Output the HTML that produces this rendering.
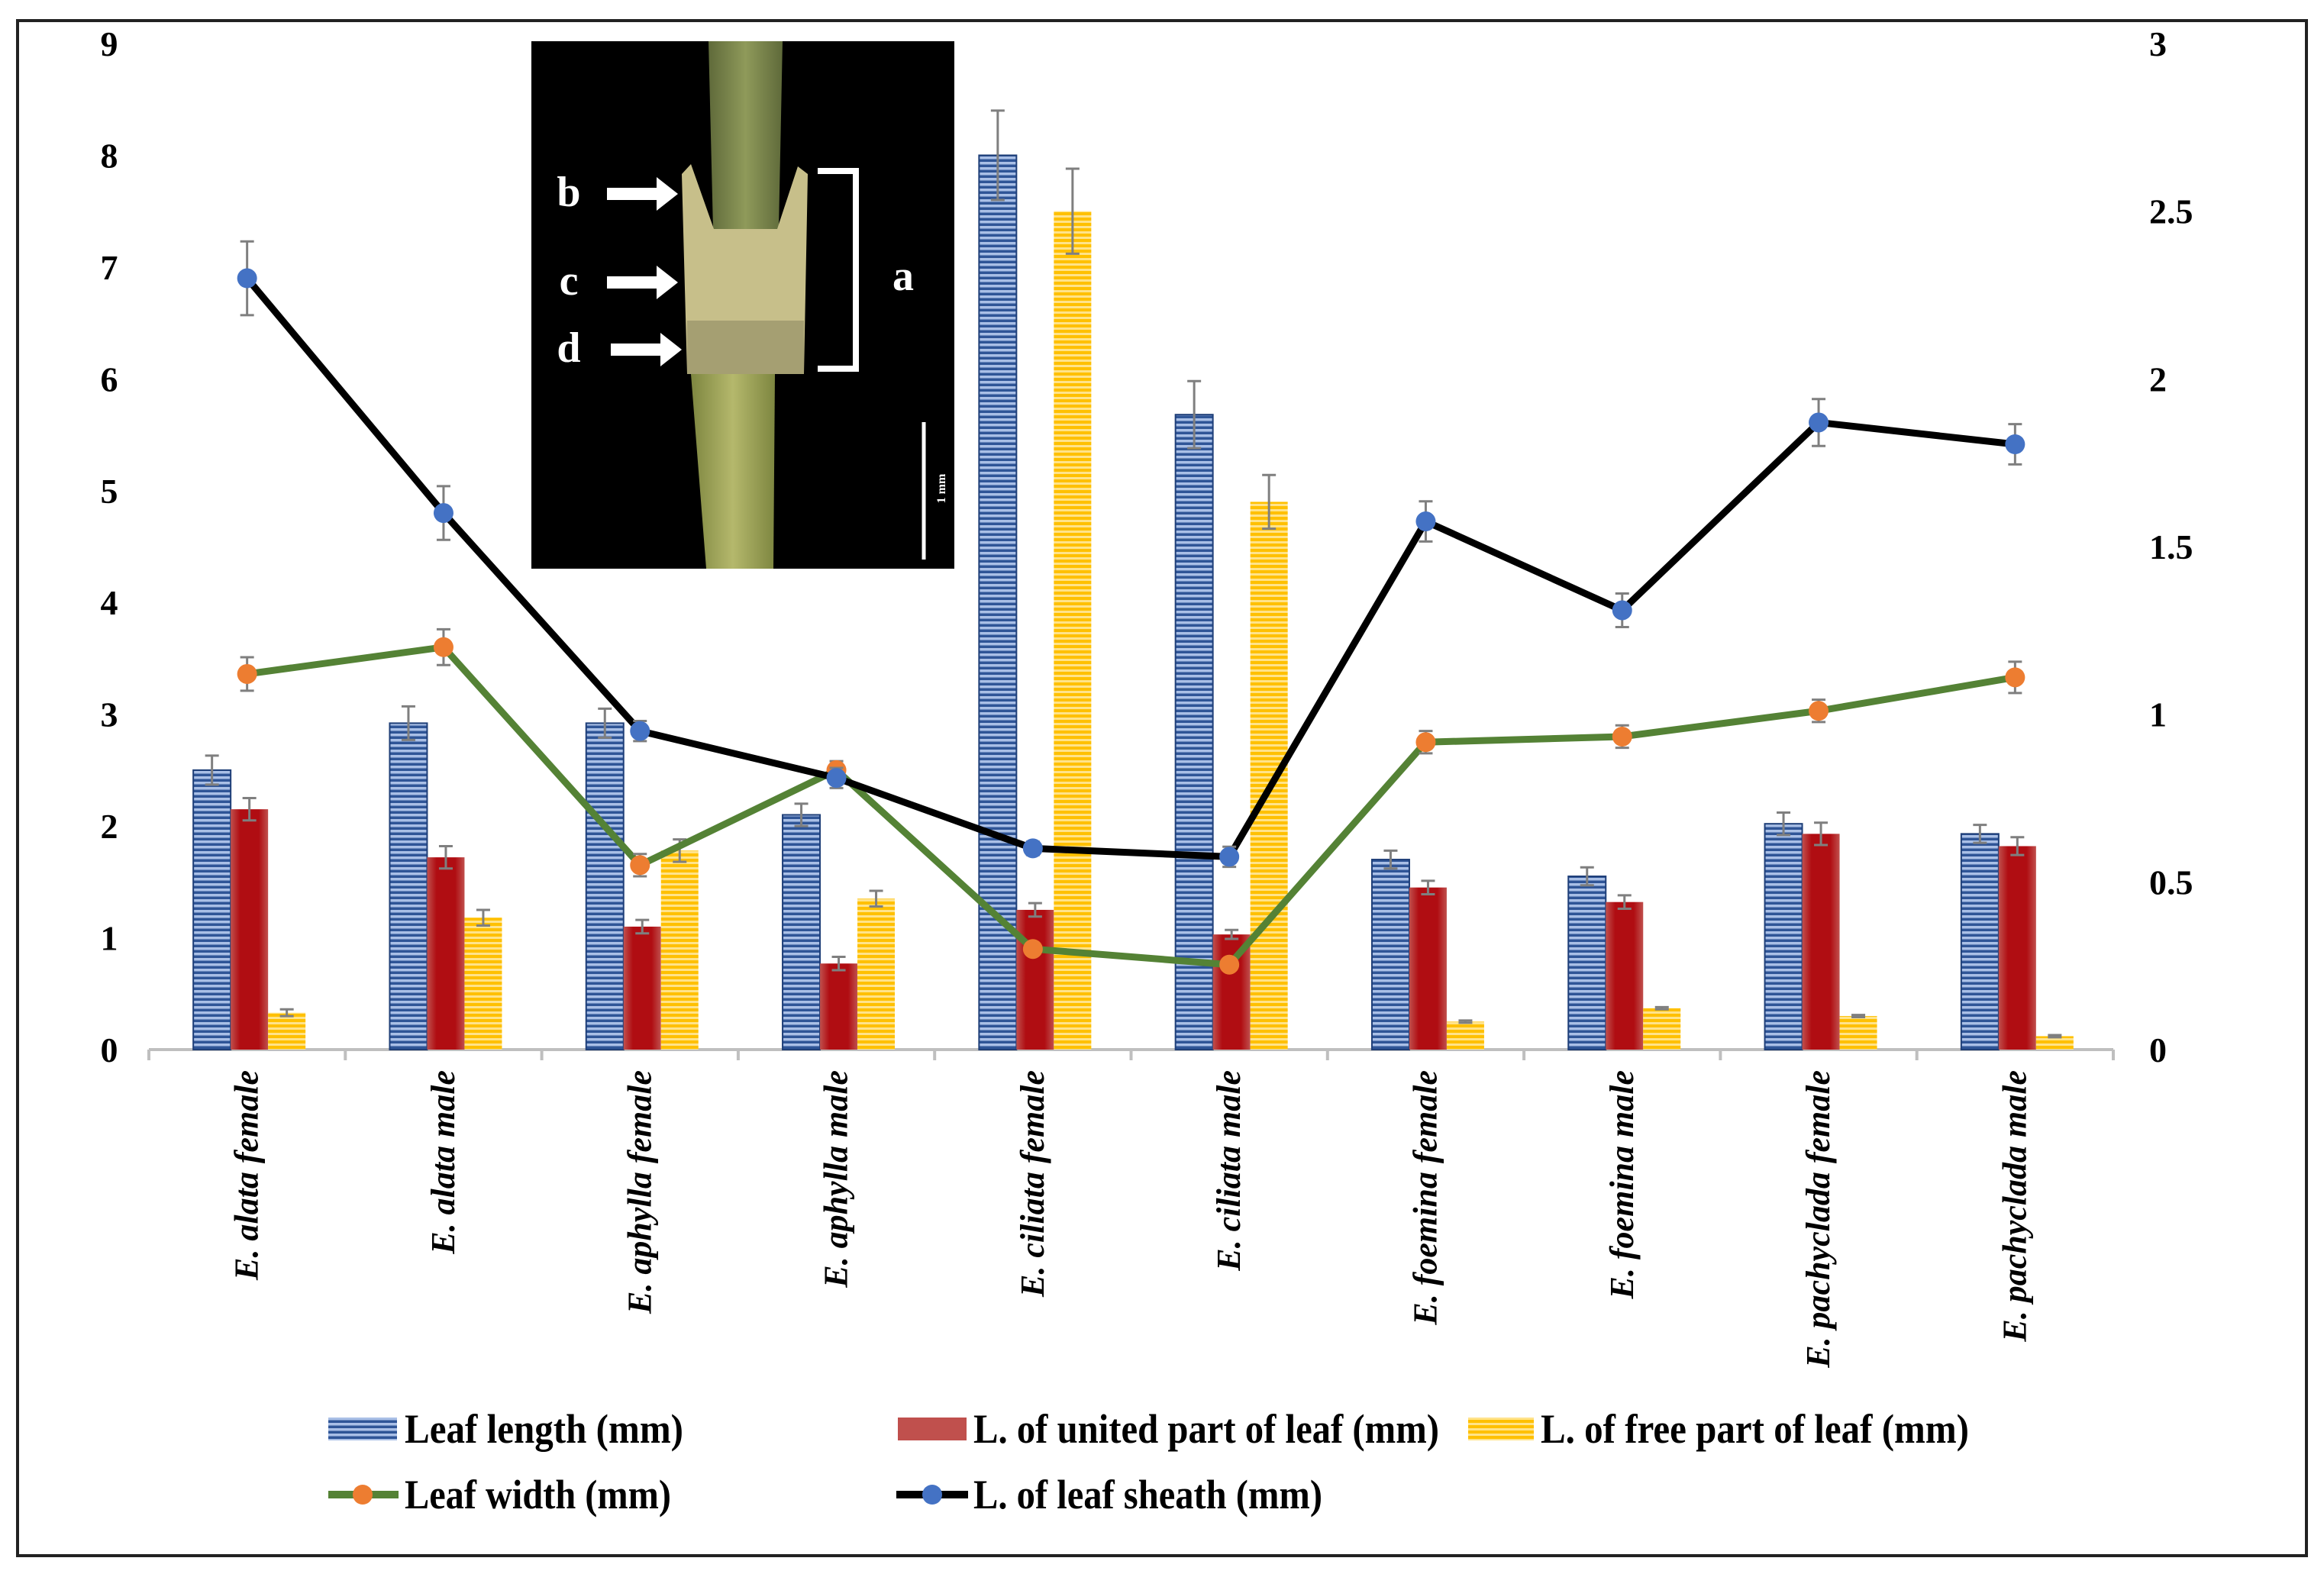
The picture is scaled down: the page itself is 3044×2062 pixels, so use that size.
<!DOCTYPE html>
<html><head><meta charset="utf-8"><style>
html,body{margin:0;padding:0;background:#fff}
svg{display:block}
text{font-family:"Liberation Serif",serif;font-weight:bold}
</style></head><body>
<svg id="chart" width="3044" height="2062" viewBox="0 0 3044 2062" xmlns="http://www.w3.org/2000/svg">
<defs>
<pattern id="pBlue" width="8" height="7" patternUnits="userSpaceOnUse"><rect width="8" height="7" fill="#2f5597"/><rect y="2" width="8" height="3.5" fill="#a9bfe6"/></pattern>
<pattern id="pYel" width="8" height="7" patternUnits="userSpaceOnUse"><rect width="8" height="7" fill="#ffc000"/><rect y="2" width="8" height="3" fill="#ffe38a"/></pattern>
<linearGradient id="gRed" x1="0" x2="1" y1="0" y2="0"><stop offset="0" stop-color="#c0504d"/><stop offset="0.25" stop-color="#b00d12"/><stop offset="0.75" stop-color="#b00d12"/><stop offset="1" stop-color="#c0504d"/></linearGradient>
<linearGradient id="gStem" x1="0" x2="1" y1="0" y2="0"><stop offset="0" stop-color="#5f6a3a"/><stop offset="0.5" stop-color="#8f9a5a"/><stop offset="1" stop-color="#5f6a3a"/></linearGradient>
<linearGradient id="gLow" x1="0" x2="1" y1="0" y2="0"><stop offset="0" stop-color="#7d8640"/><stop offset="0.5" stop-color="#b5b86c"/><stop offset="1" stop-color="#7d8640"/></linearGradient>
</defs>
<rect x="23" y="27" width="2998" height="2011" fill="none" stroke="#222" stroke-width="4"/>
<g id="axes"></g>
<g id="bars"></g>
<g id="lines"></g>
<g id="inset">
<rect x="696" y="54" width="554" height="691" fill="#000"/>
<polygon points="928,54 1025,54 1020,300 934,300" fill="url(#gStem)"/>
<polygon points="893,228 905,215 935,300 1018,300 1045,218 1058,228 1053,490 900,490" fill="#c7bf8a"/>
<polygon points="900,420 1053,420 1053,490 900,490" fill="#a59f72"/>
<polygon points="905,490 1015,490 1013,745 925,745" fill="url(#gLow)"/>
<g fill="#fff">
<polygon points="795,246 860,246 860,232 888,254 860,276 860,262 795,262"/>
<polygon points="795,362 860,362 860,348 888,370 860,392 860,378 795,378"/>
<polygon points="800,450 865,450 865,436 893,458 865,480 865,466 800,466"/>
</g>
<text x="745" y="270" font-size="56" fill="#fff" text-anchor="middle">b</text>
<text x="745" y="386" font-size="56" fill="#fff" text-anchor="middle">c</text>
<text x="745" y="474" font-size="56" fill="#fff" text-anchor="middle">d</text>
<polyline points="1071,224 1121,224 1121,483 1071,483" fill="none" stroke="#fff" stroke-width="8"/>
<text x="1183" y="380" font-size="56" fill="#fff" text-anchor="middle">a</text>
<line x1="1210" y1="553" x2="1210" y2="733" stroke="#fff" stroke-width="5"/>
<text x="1238" y="640" font-size="16" fill="#fff" text-anchor="middle" transform="rotate(-90 1238 640)">1 mm</text>
</g>
<g id="legend">
<g><rect x="430" y="1857" width="90" height="30" fill="url(#pBlue)"/><text x="530" y="1890" font-size="54" textLength="365" lengthAdjust="spacingAndGlyphs">Leaf length (mm)</text></g>
<g><rect x="1176" y="1857" width="90" height="30" fill="#c0504d"/><text x="1275" y="1890" font-size="54" textLength="610" lengthAdjust="spacingAndGlyphs">L. of united part of leaf (mm)</text></g>
<g><rect x="1923" y="1857" width="86" height="30" fill="url(#pYel)"/><text x="2018" y="1890" font-size="54" textLength="561" lengthAdjust="spacingAndGlyphs">L. of free part of leaf (mm)</text></g>
<g><line x1="430" y1="1958" x2="522" y2="1958" stroke="#548235" stroke-width="10"/><circle cx="475" cy="1958" r="13" fill="#ed7d31"/><text x="530" y="1976" font-size="54" textLength="349" lengthAdjust="spacingAndGlyphs">Leaf width (mm)</text></g>
<g><line x1="1174" y1="1958" x2="1268" y2="1958" stroke="#000" stroke-width="10"/><circle cx="1221" cy="1958" r="13" fill="#4472c4"/><text x="1275" y="1976" font-size="54" textLength="457" lengthAdjust="spacingAndGlyphs">L. of leaf sheath (mm)</text></g>
</g>
</svg>
<script>
const categories=["E. alata female","E. alata male","E. aphylla female","E. aphylla male","E. ciliata female","E. ciliata male","E. foemina female","E. foemina male","E. pachyclada female","E. pachyclada male"];
const leafLength=[2.5,2.92,2.92,2.1,8.0,5.68,1.7,1.55,2.02,1.93];
const leafLengthErr=[0.13,0.15,0.13,0.1,0.4,0.3,0.08,0.08,0.1,0.08];
const unitedPart=[2.15,1.72,1.1,0.77,1.25,1.03,1.45,1.32,1.93,1.82];
const unitedErr=[0.1,0.1,0.06,0.06,0.06,0.04,0.06,0.06,0.1,0.08];
const freePart=[0.33,1.18,1.78,1.35,7.5,4.9,0.25,0.37,0.3,0.12];
const freeErr=[0.03,0.07,0.1,0.07,0.38,0.24,0.01,0.01,0.01,0.01];
const leafWidth=[3.36,3.6,1.65,2.5,0.9,0.76,2.75,2.8,3.03,3.33];
const leafWidthErr=[0.15,0.16,0.1,0.08,0.04,0.03,0.1,0.1,0.1,0.14];
const sheath=[2.3,1.6,0.95,0.81,0.6,0.575,1.575,1.31,1.87,1.805];
const sheathErr=[0.11,0.08,0.03,0.03,0.02,0.03,0.06,0.05,0.07,0.06];
const leftTicks=[0,1,2,3,4,5,6,7,8,9];
const rightTicks=["0","0.5","1","1.5","2","2.5","3"];

const NS="http://www.w3.org/2000/svg";
const X0=195,X1=2768,Y0=1375,YT=57;
const bw=(X1-X0)/categories.length;
function yL(v){return Y0-(v/9)*(Y0-YT);}
function yR(v){return Y0-(v/3)*(Y0-YT);}
function xC(i){return X0+bw*(i+0.5);}
function mk(tag,attrs,parent,txt){const e=document.createElementNS(NS,tag);for(const k in attrs)e.setAttribute(k,attrs[k]);if(txt!==undefined)e.textContent=txt;parent.appendChild(e);return e;}
const axes=document.getElementById('axes'),bars=document.getElementById('bars'),lines=document.getElementById('lines');

const ax=mk('line',{x1:X0,y1:Y0,x2:X1,y2:Y0,stroke:'#bfbfbf','stroke-width':4},axes);


for(let i=0;i<=categories.length;i++){const x=X0+bw*i;mk('line',{x1:x,y1:Y0,x2:x,y2:Y0+14,stroke:'#bfbfbf','stroke-width':4},axes);}
leftTicks.forEach(v=>{const t=mk('text',{x:143,y:yL(v)+16,'font-size':46,'text-anchor':'middle'},axes,String(v));

});
rightTicks.forEach(v=>{const t=mk('text',{x:2815,y:yR(parseFloat(v))+16,'font-size':46},axes,v);

});
categories.forEach((c,i)=>{const x=xC(i)+14,y=1402;
const t=mk('text',{x:x,y:y,'font-size':44,'font-style':'italic','text-anchor':'end',transform:`rotate(-90 ${x} ${y})`},axes,c);

});

function err(x,y1,y2,g){mk('line',{x1:x,y1:y1,x2:x,y2:y2,stroke:'#7f7f7f','stroke-width':3},g);mk('line',{x1:x-9,y1:y1,x2:x+9,y2:y1,stroke:'#7f7f7f','stroke-width':3},g);mk('line',{x1:x-9,y1:y2,x2:x+9,y2:y2,stroke:'#7f7f7f','stroke-width':3},g);}
const W=49;
const series=[[leafLength,leafLengthErr,'url(#pBlue)','bar-leaf-length'],[unitedPart,unitedErr,'url(#gRed)','bar-united-part'],[freePart,freeErr,'url(#pYel)','bar-free-part']];
categories.forEach((c,i)=>{series.forEach((s,k)=>{const x=xC(i)-1.5*W+k*W+3;const y=yL(s[0][i]);
const r=mk('rect',{x:x,y:y,width:W,height:Y0-y,fill:s[2]},bars);


if(k===0)mk('rect',{x:x,y:y,width:W,height:Y0-y,fill:'none',stroke:'#1f3f78','stroke-width':2},bars);
err(x+W/2,yL(s[0][i]+s[1][i]),yL(s[0][i]-s[1][i]),bars);});});

function drawLine(vals,errs,fy,color,mcol,name){
const p=vals.map((v,i)=>xC(i)+','+fy(v)).join(' ');
const l=mk('polyline',{points:p,fill:'none',stroke:color,'stroke-width':9,'stroke-linejoin':'round'},lines);


vals.forEach((v,i)=>{err(xC(i),fy(v+errs[i]),fy(v-errs[i]),lines);
const m=mk('circle',{cx:xC(i),cy:fy(v),r:13,fill:mcol},lines);

});}
drawLine(leafWidth,leafWidthErr,yL,'#548235','#ed7d31','leaf-width');
drawLine(sheath,sheathErr,yR,'#000','#4472c4','leaf-sheath');
</script>
</body></html>
